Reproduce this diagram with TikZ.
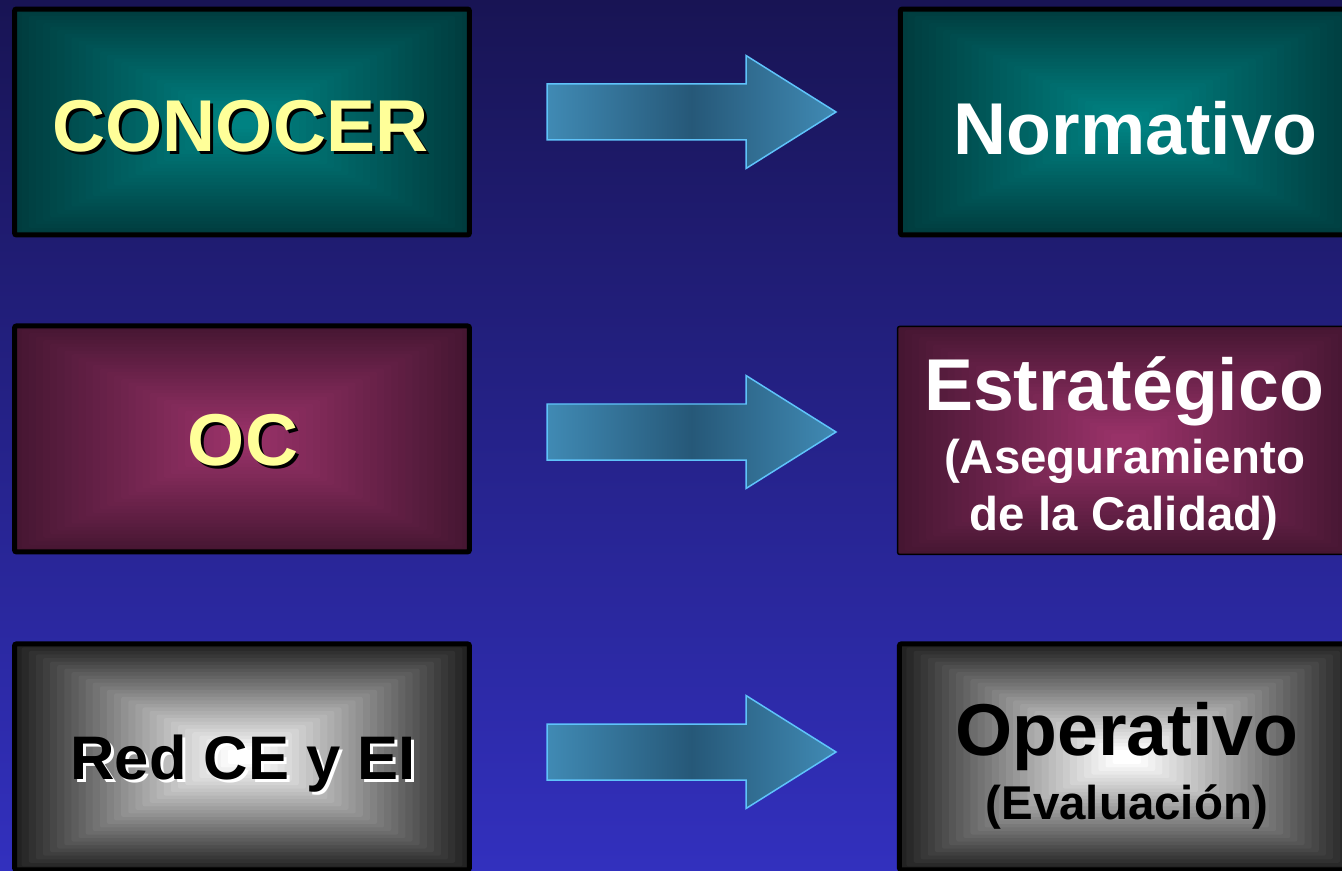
\documentclass[tikz,border=0pt]{standalone}
\usepackage{fontspec}
\setmainfont{Liberation Sans}
\usepackage{tikz}
\usetikzlibrary{positioning,calc}
\definecolor{bgTop}{RGB}{24,20,84}
\definecolor{bgBot}{RGB}{50,48,190}
\definecolor{tealIn}{RGB}{0,130,130}
\definecolor{tealOut}{RGB}{0,60,62}
\definecolor{magIn}{RGB}{152,50,104}
\definecolor{magOut}{RGB}{70,22,50}
\definecolor{grayIn}{RGB}{255,255,255}
\definecolor{grayOut}{RGB}{34,34,34}
\definecolor{txtYellow}{RGB}{255,255,153}
\definecolor{arrowEdge}{RGB}{95,195,250}
\definecolor{arrowDark}{RGB}{38,88,120}
\definecolor{arrowLight}{RGB}{64,138,180}
\tikzset{
    gradbox/.style 2 args={
        draw=black,
        line width=0.1cm,
        rounded corners=0.04cm,
        minimum width=9.1cm,
        minimum height=4.52cm,
        path picture={
            \foreach \i in {0,...,30}{
                \pgfmathsetmacro{\f}{\i/32}
                \pgfmathsetmacro{\t}{100*\i/30}
                \fill[#1!\t!#2]
                    ($(path picture bounding box.south west)!\f!(path picture bounding box.center)$)
                    rectangle
                    ($(path picture bounding box.north east)!\f!(path picture bounding box.center)$);
            }
        }
    },
    bigtxt/.style={font=\fontsize{41.8pt}{48pt}\selectfont\bfseries, inner sep=0pt, anchor=base},
    midtxt/.style={font=\fontsize{35pt}{40pt}\selectfont\bfseries, inner sep=0pt, anchor=base},
    subtxt/.style={font=\fontsize{27pt}{32pt}\selectfont\bfseries, inner sep=0pt, anchor=base},
    bigarrow/.style={
        draw=arrowEdge,
        line width=0.03cm,
        left color=arrowLight,
        right color=arrowLight,
        middle color=arrowDark
    }
}

\begin{document}
\begin{tikzpicture}[x=0.02cm, y=0.02cm]
    \useasboundingbox (0,0) rectangle (1342,-871);
    \clip (0,0) rectangle (1342,-871);
    \fill[top color=bgTop, bottom color=bgBot] (0,0) rectangle (1342,-871);

    % Columna izquierda
    \node[gradbox={tealIn}{tealOut}] (conocer) at (242,-122) {};
    \node[gradbox={magIn}{magOut}, below=1.72cm of conocer] (oc) {};
    \node[gradbox={grayIn}{grayOut}, below=1.74cm of oc] (red) {};

    % Columna derecha
    \node[gradbox={tealIn}{tealOut}, right=8.52cm of conocer] (normativo) {};
    \node[gradbox={magIn}{magOut}, line width=0.03cm, minimum height=4.56cm,
          right=8.5cm of oc, yshift=-0.03cm] (estrategico) {};
    \node[gradbox={grayIn}{grayOut}, right=8.5cm of red] (operativo) {};

    % Textos
    \node[bigtxt, black] (conocerSh) at ($(conocer)+(1.5,-33)$) {CONOCER};
    \node[bigtxt, txtYellow] (conocerTxt) at ($(conocer)+(-1.5,-30)$) {CONOCER};
    \node[bigtxt, black] (ocSh) at ($(oc)+(4,-30)$) {OC};
    \node[bigtxt, txtYellow] (ocTxt) at ($(oc)+(1,-27)$) {OC};
    \node[midtxt, white] (redSh) at ($(red)+(4,-26)$) {Red CE y EI};
    \node[midtxt, black] (redTxt) at ($(red)+(1,-23)$) {Red CE y EI};

    \node[bigtxt, white] (normTxt) at ($(normativo)+(7.5,-33)$) {Normativo};
    \node[bigtxt, white] (estTxt) at ($(estrategico)+(-1,29.5)$) {Estratégico};
    \node[subtxt, white] (estSub1) at ($(estrategico)+(-0.5,-33.5)$) {(Aseguramiento};
    \node[subtxt, white] (estSub2) at ($(estrategico)+(-1,-90.5)$) {de la Calidad)};
    \node[bigtxt, black] (opTxt) at ($(operativo)+(0,1)$) {Operativo};
    \node[subtxt, black] (opSub) at ($(operativo)+(0,-63)$) {(Evaluación)};

    % Flechas
    \foreach \y in {112,432,752}
        \draw[bigarrow] (547,-\y) ++(0,28) -- ++(199,0) -- ++(0,28.5) -- ++(90,-56.5)
            -- ++(-90,-56.5) -- ++(0,28.5) -- ++(-199,0) -- cycle;
\end{tikzpicture}
\end{document}
